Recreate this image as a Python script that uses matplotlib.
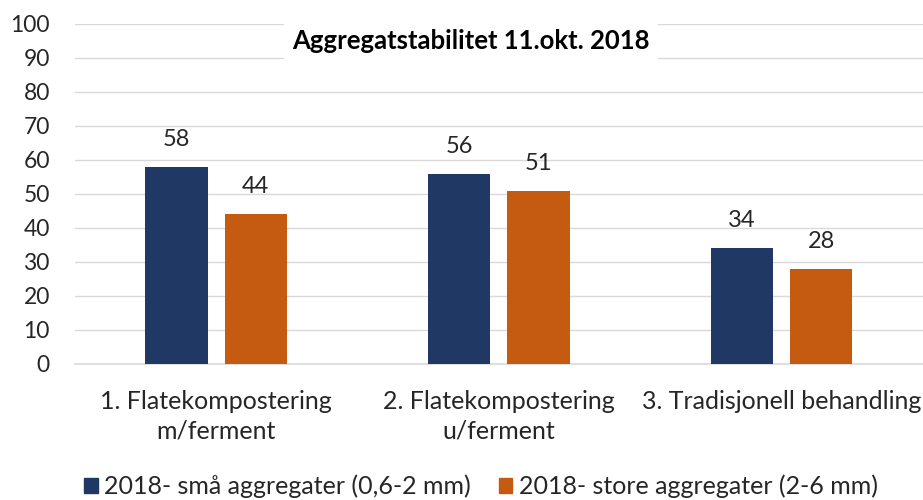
import numpy as np
import matplotlib.pyplot as plt
from matplotlib.patches import Patch

categories = ["1. Flatekompostering\nm/ferment", "2. Flatekompostering\nu/ferment", "3. Tradisjonell behandling"]
small = [58, 56, 34]
large = [44, 51, 28]
series_names = ["2018- små aggregater (0,6-2 mm)", "2018- store aggregater (2-6 mm)"]
yticks = [0, 10, 20, 30, 40, 50, 60, 70, 80, 90, 100]

plt.rcParams['font.family'] = ['Lato', 'DejaVu Sans']
blue = '#203864'
orange = '#C55A11'
txt = '#262626'

fig = plt.figure(figsize=(9.23, 5), dpi=100)
ax = fig.add_axes([0.081, 0.272, 0.919, 0.68])

x = np.arange(len(categories))
w = 0.22
gap = 0.06
b1 = ax.bar(x - (w + gap) / 2, small, w, color=blue, zorder=3)
b2 = ax.bar(x + (w + gap) / 2, large, w, color=orange, zorder=3)
for bars, vals in [(b1, small), (b2, large)]:
    for r, v in zip(bars, vals):
        ax.text(r.get_x() + r.get_width() / 2, v + 5, str(v), ha='center', va='bottom',
                fontsize=17, color=txt)

ax.set_xlim(-0.5, 2.5)
ax.set_ylim(0, 100)
ax.set_yticks(yticks)
ax.set_xticks(x)
ax.set_xticklabels(categories, fontsize=18, color=txt, linespacing=1.3)
ax.tick_params(axis='y', labelsize=16.5, colors=txt, length=0, pad=18)
ax.tick_params(axis='x', length=0, pad=19)
ax.grid(axis='y', color='#D9D9D9', linewidth=1, zorder=0)
for s in ['top', 'right', 'left']:
    ax.spines[s].set_visible(False)
ax.spines['bottom'].set_color('#D9D9D9')
ax.spines['bottom'].set_linewidth(1.2)

ax.text(0.467, 0.95, "Aggregatstabilitet 11.okt. 2018", transform=ax.transAxes,
        ha='center', va='center', fontsize=18.5, fontweight='bold', color='black',
        zorder=5, bbox=dict(facecolor='white', edgecolor='none', pad=6))

handles = [Patch(color=blue), Patch(color=orange)]
fig.legend(handles, series_names, loc='center', bbox_to_anchor=(0.521, 0.027), ncol=2,
           frameon=False, fontsize=18, handlelength=0.55, handleheight=0.55,
           handletextpad=0.25, columnspacing=1.1, labelcolor=txt)

fig.savefig('out.png', dpi=100)
